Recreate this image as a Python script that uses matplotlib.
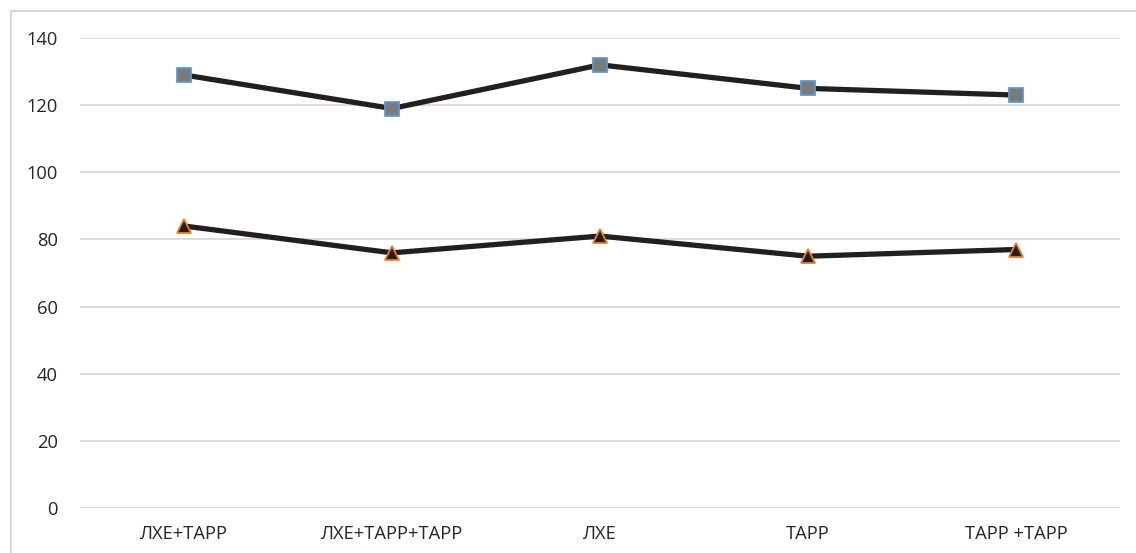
import matplotlib
matplotlib.use("Agg")
import matplotlib.pyplot as plt
from matplotlib.patches import Rectangle

categories = ["ЛХЕ+ТАРР", "ЛХЕ+ТАРР+ТАРР", "ЛХЕ", "ТАРР", "ТАРР +ТАРР"]
upper_series = [129, 119, 132, 125, 123]
lower_series = [84, 76, 81, 75, 77]
y_ticks = [0, 20, 40, 60, 80, 100, 120, 140]

plt.rcParams['font.family'] = ['Open Sans', 'DejaVu Sans']

W, H = 1136, 553
fig = plt.figure(figsize=(W / 100, H / 100), dpi=100)
ax = fig.add_axes([80 / W, (H - 508) / H, (1120 - 80) / W, (508 - 38) / H])

x = list(range(len(categories)))
line_color = "#231f20"
ax.plot(x, upper_series, color=line_color, lw=3.8, marker="s", ms=9.5,
        mfc="#7a7a7a", mec="#5b9bd5", mew=1.3, zorder=3,
        solid_capstyle="round")
ax.plot(x, lower_series, color=line_color, lw=3.8, marker="^", ms=10,
        mfc="#231f20", mec="#ed7d31", mew=1.3, zorder=3,
        solid_capstyle="round")

ax.set_xlim(-0.5, len(categories) - 0.5)
ax.set_ylim(0, 140)
ax.set_yticks(y_ticks)
ax.set_xticks(x)
ax.set_xticklabels(categories)
ax.grid(axis="y", color="#d9d9d9", lw=1.3)
ax.set_axisbelow(True)
for s in ax.spines.values():
    s.set_visible(False)
ax.tick_params(axis="both", length=0, labelsize=13.2, colors="#262626")
ax.tick_params(axis="y", pad=16)
ax.tick_params(axis="x", pad=12)

# chart-area frame (left and top edges visible)
fig.patches.append(Rectangle((11 / W, -0.1), 1.2, (H - 11) / H + 0.1,
                             transform=fig.transFigure, fill=False,
                             ec="#d9d9d9", lw=1.5))

fig.savefig("out.png", dpi=100)
